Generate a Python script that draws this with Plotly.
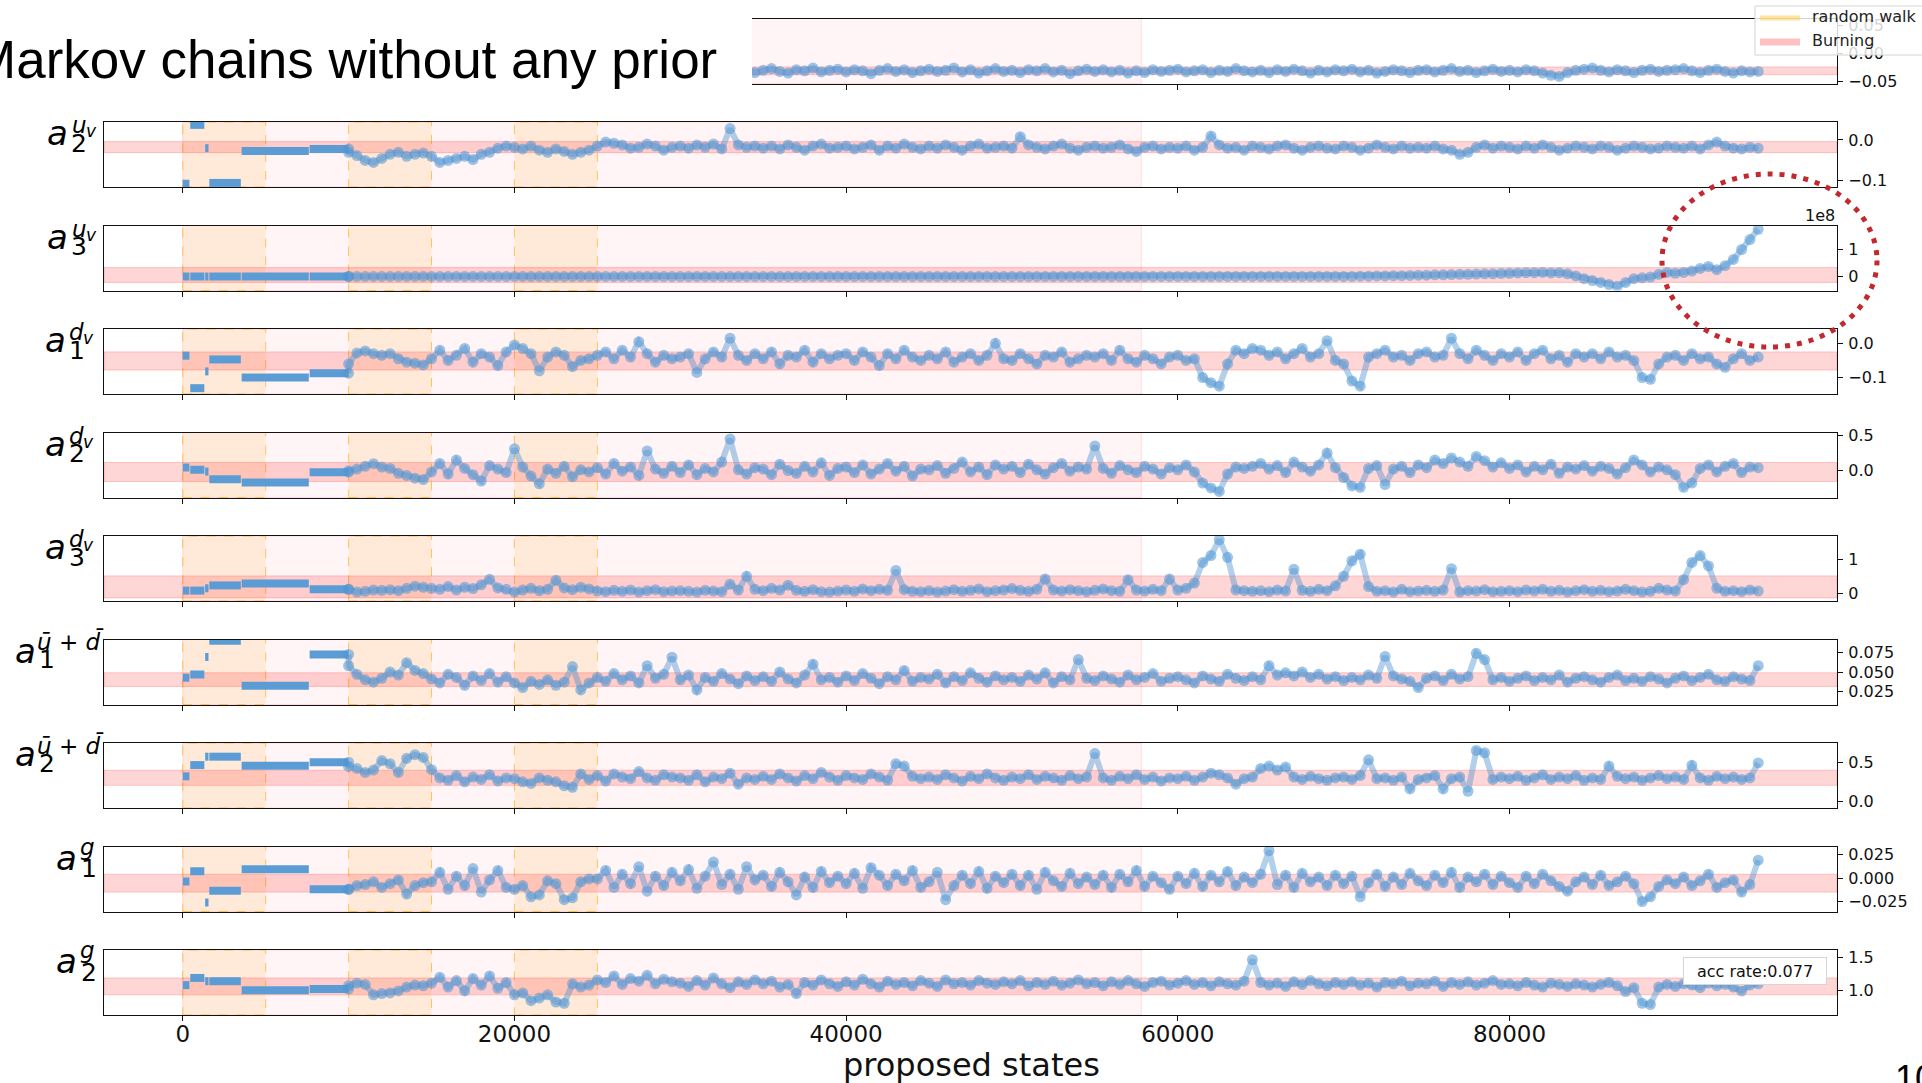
import plotly.graph_objects as go

W, H = 1922, 1083

# ---------------- data ----------------
chain_steps = list(range(10000, 95001, 500))          # recorded chain after the random-walk start
walk_start = [0, 450, 1350, 1600, 3550, 7650]          # piecewise-constant accepted states (first 10000)
walk_end = [400, 1300, 1550, 3500, 7600, 10000]
random_walk_spans = [(0, 5000), (10000, 15000), (20000, 25000)]
burning_span = (0, 57800)
acc_rate = 0.077

a1_uv_walk = [0.005, 0.055, 0.010, -0.045, -0.020, -0.028]
a1_uv_chain = [
    -0.030, -0.034, -0.028, -0.036, -0.031, -0.027, -0.033, -0.029, -0.035, -0.030,
    -0.032, -0.027, -0.035, -0.030, -0.026, -0.033, -0.029, -0.036, -0.031, -0.028,
    -0.030, -0.034, -0.027, -0.032, -0.036, -0.029, -0.031, -0.026, -0.033, -0.030,
    -0.028, -0.033, -0.030, -0.035, -0.029, -0.027, -0.032, -0.030, -0.034, -0.029,
    -0.031, -0.027, -0.033, -0.029, -0.035, -0.030, -0.026, -0.032, -0.029, -0.034,
    -0.030, -0.027, -0.032, -0.035, -0.029, -0.031, -0.026, -0.033, -0.030, -0.028,
    -0.033, -0.029, -0.031, -0.036, -0.030, -0.027, -0.032, -0.029, -0.034, -0.031,
    -0.028, -0.032, -0.030, -0.026, -0.033, -0.029, -0.035, -0.031, -0.027, -0.032,
    -0.030, -0.034, -0.029, -0.031, -0.027, -0.033, -0.030, -0.036, -0.031, -0.028,
    -0.032, -0.029, -0.033, -0.030, -0.035, -0.031, -0.034, -0.029, -0.032, -0.030,
    -0.028, -0.033, -0.031, -0.029, -0.034, -0.030, -0.032, -0.027, -0.031, -0.033,
    -0.030, -0.034, -0.029, -0.032, -0.028, -0.031, -0.035, -0.030, -0.033, -0.029,
    -0.031, -0.028, -0.033, -0.030, -0.035, -0.032, -0.029, -0.031, -0.034, -0.030,
    -0.029, -0.033, -0.030, -0.027, -0.032, -0.030, -0.034, -0.031, -0.028, -0.032,
    -0.030, -0.033, -0.029, -0.031, -0.035, -0.039, -0.041, -0.034, -0.030, -0.028,
    -0.026, -0.030, -0.033, -0.029, -0.031, -0.034, -0.030, -0.028, -0.032, -0.030,
    -0.029, -0.027, -0.031, -0.034, -0.030, -0.028, -0.032, -0.035, -0.031, -0.033,
    -0.032]

a2_uv_walk = [-0.107, 0.037, -0.020, -0.105, -0.027, -0.022]
a2_uv_chain = [
    -0.030, -0.038, -0.050, -0.055, -0.045, -0.035, -0.030, -0.040, -0.035, -0.032,
    -0.040, -0.055, -0.050, -0.045, -0.040, -0.048, -0.035, -0.030, -0.020, -0.015,
    -0.018, -0.022, -0.015, -0.025, -0.030, -0.022, -0.028, -0.035, -0.030, -0.025,
    -0.015, -0.005, -0.008, -0.012, -0.020, -0.018, -0.010, -0.015, -0.025, -0.018,
    -0.015, -0.020, -0.012, -0.018, -0.010, -0.022, 0.028, -0.012, -0.018, -0.015,
    -0.020, -0.015, -0.022, -0.012, -0.018, -0.025, -0.015, -0.010, -0.020, -0.018,
    -0.015, -0.022, -0.018, -0.012, -0.025, -0.015, -0.020, -0.010, -0.018, -0.022,
    -0.015, -0.020, -0.012, -0.018, -0.025, -0.015, -0.010, -0.020, -0.018, -0.015,
    -0.020, 0.008, -0.012, -0.018, -0.022, -0.015, -0.010, -0.020, -0.025, -0.018,
    -0.015, -0.020, -0.018, -0.012, -0.022, -0.028, -0.018, -0.015, -0.022, -0.018,
    -0.020, -0.015, -0.025, -0.018, 0.010, -0.012, -0.020, -0.018, -0.025, -0.015,
    -0.018, -0.022, -0.015, -0.012, -0.020, -0.025, -0.018, -0.015, -0.020, -0.022,
    -0.015, -0.018, -0.025, -0.020, -0.012, -0.018, -0.022, -0.015, -0.020, -0.018,
    -0.020, -0.015, -0.022, -0.025, -0.035, -0.030, -0.018, -0.012, -0.020, -0.015,
    -0.018, -0.022, -0.015, -0.020, -0.012, -0.018, -0.025, -0.020, -0.015, -0.018,
    -0.022, -0.015, -0.018, -0.025, -0.020, -0.015, -0.018, -0.022, -0.020, -0.015,
    -0.018, -0.020, -0.015, -0.022, -0.012, -0.005, -0.015, -0.020, -0.022, -0.018,
    -0.020]

# a3^{u_v} in units of 1e8
a3_uv_walk = [0.0, 0.0, 0.0, 0.0, 0.0, 0.0]
a3_uv_chain = [
    0.0, 0.0, 0.0, 0.0, 0.0, 0.0, 0.0, 0.0, 0.0, 0.0,
    0.0, 0.0, 0.0, 0.0, 0.0, 0.0, 0.0, 0.0, 0.0, 0.0,
    0.0, 0.0, 0.0, 0.0, 0.0, 0.0, 0.0, 0.0, 0.0, 0.0,
    0.0, 0.0, 0.0, 0.0, 0.0, 0.0, 0.0, 0.0, 0.0, 0.0,
    0.0, 0.0, 0.0, 0.0, 0.0, 0.0, 0.0, 0.0, 0.0, 0.0,
    0.0, 0.0, 0.0, 0.0, 0.0, 0.0, 0.0, 0.0, 0.0, 0.0,
    0.0, 0.0, 0.0, 0.0, 0.0, 0.0, 0.0, 0.0, 0.0, 0.0,
    0.0, 0.0, 0.0, 0.0, 0.0, 0.0, 0.0, 0.0, 0.0, 0.0,
    0.0, 0.0, 0.0, 0.0, 0.0, 0.0, 0.0, 0.0, 0.0, 0.0,
    0.0, 0.0, 0.0, 0.0, 0.0, 0.0, 0.0, 0.0, 0.0, 0.0,
    0.0, 0.0, 0.0, 0.0, 0.0, 0.0, 0.0, 0.0, 0.0, 0.0,
    0.0, 0.0, 0.0, 0.0, 0.0, 0.0, 0.0, 0.0, 0.0, 0.0,
    0.0, 0.0, 0.01, 0.01, 0.02, 0.02, 0.03, 0.03, 0.04, 0.05,
    0.05, 0.06, 0.06, 0.07, 0.08, 0.08, 0.09, 0.10, 0.10, 0.11,
    0.12, 0.13, 0.14, 0.14, 0.15, 0.13, 0.14, 0.10, 0.02, -0.08,
    -0.15, -0.22, -0.30, -0.36, -0.22, -0.08, -0.05, -0.02, 0.08, 0.15,
    0.12, 0.15, 0.20, 0.30, 0.37, 0.25, 0.40, 0.63, 1.00, 1.37,
    1.75]

a1_dv_walk = [-0.036, -0.131, -0.082, -0.047, -0.100, -0.087]
a1_dv_chain = [
    -0.060, -0.028, -0.022, -0.030, -0.035, -0.030, -0.045, -0.055, -0.058, -0.063,
    -0.045, -0.020, -0.050, -0.035, -0.015, -0.055, -0.030, -0.040, -0.065, -0.025,
    -0.005, -0.015, -0.030, -0.080, -0.040, -0.025, -0.035, -0.068, -0.050, -0.045,
    -0.035, -0.025, -0.045, -0.020, -0.040, 0.005, -0.030, -0.055, -0.035, -0.045,
    -0.040, -0.030, -0.085, -0.045, -0.025, -0.040, 0.015, -0.035, -0.050, -0.030,
    -0.045, -0.025, -0.060, -0.035, -0.040, -0.020, -0.055, -0.030, -0.045, -0.035,
    -0.030, -0.050, -0.025, -0.040, -0.065, -0.030, -0.045, -0.020, -0.040, -0.050,
    -0.035, -0.045, -0.025, -0.055, -0.040, -0.030, -0.050, -0.035, 0.000, -0.045,
    -0.050, -0.030, -0.045, -0.060, -0.035, -0.040, -0.025, -0.055, -0.045, -0.035,
    -0.040, -0.030, -0.050, -0.020, -0.045, -0.055, -0.035, -0.045, -0.060, -0.040,
    -0.035, -0.050, -0.045, -0.100, -0.115, -0.125, -0.060, -0.020, -0.030, -0.015,
    -0.020, -0.035, -0.025, -0.045, -0.030, -0.015, -0.040, -0.030, 0.008, -0.050,
    -0.060, -0.110, -0.125, -0.040, -0.030, -0.020, -0.040, -0.035, -0.050, -0.030,
    -0.025, -0.040, -0.035, 0.015, -0.030, -0.045, -0.020, -0.035, -0.050, -0.030,
    -0.040, -0.025, -0.050, -0.030, -0.020, -0.045, -0.035, -0.055, -0.030, -0.040,
    -0.030, -0.045, -0.025, -0.040, -0.035, -0.050, -0.100, -0.105, -0.060, -0.040,
    -0.035, -0.050, -0.030, -0.045, -0.040, -0.060, -0.070, -0.045, -0.030, -0.050,
    -0.040]

a2_dv_walk = [0.041, 0.010, -0.014, -0.126, -0.172, -0.024]
a2_dv_chain = [
    -0.005, 0.020, 0.060, 0.097, 0.050, 0.030, -0.040, -0.070, -0.110, -0.130,
    -0.020, 0.100, -0.050, 0.150, 0.030, -0.060, -0.150, 0.070, 0.020, -0.030,
    0.310, 0.050, -0.080, -0.190, 0.020, -0.040, 0.060, -0.090, 0.010, -0.020,
    0.040, -0.050, 0.100, -0.010, 0.050, -0.070, 0.280, 0.020, -0.040, 0.060,
    -0.030, 0.080, -0.060, 0.030, -0.020, 0.120, 0.450, 0.010, -0.050, 0.040,
    0.020, -0.060, 0.090, 0.000, -0.040, 0.060, -0.020, 0.110, -0.070, 0.030,
    0.050, -0.030, 0.080, -0.050, 0.020, 0.100, -0.010, 0.060, -0.080, 0.020,
    0.010, 0.070, -0.040, 0.030, 0.120, -0.020, 0.050, -0.060, 0.080, 0.020,
    0.060, -0.030, 0.090, 0.010, -0.050, 0.040, 0.100, -0.010, 0.050, 0.020,
    0.350, 0.030, -0.040, 0.070, 0.010, -0.030, 0.060, 0.020, -0.050, 0.040,
    0.010, 0.080, -0.020, -0.180, -0.250, -0.300, -0.050, 0.050, 0.030, 0.060,
    0.100, 0.020, 0.070, -0.030, 0.120, 0.050, -0.010, 0.080, 0.250, 0.040,
    -0.100, -0.220, -0.240, 0.030, 0.070, -0.200, 0.020, 0.060, -0.030, 0.080,
    0.040, 0.150, 0.100, 0.180, 0.120, 0.060, 0.200, 0.140, 0.050, 0.110,
    0.030, 0.080, -0.020, 0.060, 0.010, 0.090, -0.040, 0.050, 0.020, 0.070,
    -0.010, 0.060, 0.030, -0.050, 0.040, 0.150, 0.080, -0.020, 0.050, 0.010,
    -0.060, -0.240, -0.180, 0.030, 0.080, -0.020, 0.060, 0.100, -0.030, 0.050,
    0.040]

a3_dv_walk = [0.082, 0.082, 0.150, 0.234, 0.290, 0.120]
a3_dv_chain = [
    0.120, 0.040, 0.060, 0.100, 0.090, 0.110, 0.080, 0.150, 0.210, 0.180,
    0.150, 0.120, 0.200, 0.100, 0.180, 0.140, 0.250, 0.410, 0.160, 0.120,
    0.040, 0.100, 0.150, 0.080, 0.120, 0.380, 0.160, 0.110, 0.180, 0.130,
    0.070, 0.050, 0.090, 0.060, 0.100, 0.040, 0.080, 0.110, 0.050, 0.070,
    0.080, 0.060, 0.040, 0.090, 0.070, 0.050, 0.270, 0.100, 0.500, 0.120,
    0.080, 0.150, 0.100, 0.240, 0.090, 0.060, 0.110, 0.050, 0.040, 0.070,
    0.100, 0.060, 0.130, 0.080, 0.120, 0.090, 0.670, 0.110, 0.060, 0.050,
    0.080, 0.040, 0.070, 0.110, 0.060, 0.090, 0.130, 0.050, 0.080, 0.100,
    0.140, 0.090, 0.060, 0.120, 0.420, 0.100, 0.070, 0.110, 0.080, 0.050,
    0.090, 0.130, 0.080, 0.060, 0.400, 0.100, 0.070, 0.120, 0.080, 0.420,
    0.100, 0.150, 0.300, 0.900, 1.100, 1.560, 1.050, 0.100, 0.080, 0.060,
    0.080, 0.050, 0.100, 0.070, 0.700, 0.090, 0.060, 0.120, 0.080, 0.220,
    0.500, 0.950, 1.140, 0.200, 0.060, 0.080, 0.040, 0.120, 0.050, 0.070,
    0.090, 0.060, 0.100, 0.720, 0.040, 0.080, 0.070, 0.110, 0.050, 0.060,
    0.080, 0.050, 0.100, 0.070, 0.120, 0.060, 0.090, 0.040, 0.080, 0.110,
    0.060, 0.090, 0.050, 0.070, 0.120, 0.080, 0.040, 0.060, 0.150, 0.100,
    0.070, 0.400, 0.900, 1.100, 0.800, 0.150, 0.060, 0.080, 0.050, 0.100,
    0.070]

a1_ud_walk = [0.0425, 0.0467, 0.0692, 0.0900, 0.0325, 0.0725]
a1_ud_chain = [
    0.058, 0.047, 0.040, 0.037, 0.042, 0.050, 0.046, 0.062, 0.052, 0.048,
    0.041, 0.036, 0.047, 0.043, 0.033, 0.045, 0.039, 0.048, 0.037, 0.044,
    0.036, 0.030, 0.038, 0.034, 0.040, 0.033, 0.037, 0.057, 0.027, 0.036,
    0.043, 0.038, 0.048, 0.040, 0.045, 0.036, 0.058, 0.042, 0.047, 0.069,
    0.040, 0.046, 0.027, 0.043, 0.038, 0.048, 0.041, 0.035, 0.045, 0.039,
    0.044, 0.038, 0.050, 0.041, 0.036, 0.046, 0.060, 0.040, 0.043, 0.037,
    0.045, 0.039, 0.048, 0.042, 0.035, 0.044, 0.040, 0.052, 0.038, 0.043,
    0.041, 0.047, 0.036, 0.044, 0.039, 0.049, 0.042, 0.037, 0.045, 0.040,
    0.043, 0.038, 0.046, 0.041, 0.049, 0.036, 0.044, 0.040, 0.066, 0.042,
    0.039, 0.045, 0.041, 0.037, 0.046, 0.040, 0.043, 0.048, 0.038, 0.042,
    0.044, 0.040, 0.036, 0.045, 0.041, 0.038, 0.047, 0.042, 0.039, 0.044,
    0.040, 0.058, 0.046, 0.049, 0.045, 0.050, 0.043, 0.047, 0.041, 0.044,
    0.039, 0.043, 0.040, 0.046, 0.042, 0.070, 0.045, 0.041, 0.038, 0.030,
    0.042, 0.045, 0.039, 0.047, 0.041, 0.044, 0.074, 0.066, 0.040, 0.043,
    0.038, 0.042, 0.045, 0.039, 0.043, 0.040, 0.046, 0.037, 0.042, 0.044,
    0.040, 0.037, 0.043, 0.046, 0.039, 0.042, 0.038, 0.044, 0.041, 0.036,
    0.042, 0.045, 0.039, 0.043, 0.047, 0.040, 0.038, 0.044, 0.041, 0.039,
    0.058]

a2_ud_walk = [0.320, 0.463, 0.570, 0.570, 0.455, 0.500]
a2_ud_chain = [
    0.446, 0.420, 0.370, 0.400, 0.520, 0.480, 0.370, 0.550, 0.595, 0.560,
    0.405, 0.300, 0.270, 0.330, 0.250, 0.310, 0.280, 0.340, 0.260, 0.300,
    0.290, 0.250, 0.230, 0.300, 0.270, 0.250, 0.200, 0.180, 0.350, 0.280,
    0.330, 0.260, 0.350, 0.310, 0.290, 0.380, 0.300, 0.270, 0.340, 0.310,
    0.300, 0.270, 0.340, 0.250, 0.310, 0.290, 0.360, 0.220, 0.300, 0.280,
    0.320, 0.280, 0.350, 0.300, 0.260, 0.330, 0.290, 0.370, 0.310, 0.270,
    0.330, 0.300, 0.280, 0.350, 0.310, 0.270, 0.480, 0.450, 0.320, 0.290,
    0.310, 0.280, 0.340, 0.300, 0.260, 0.320, 0.290, 0.350, 0.300, 0.270,
    0.310, 0.290, 0.340, 0.280, 0.320, 0.300, 0.270, 0.330, 0.290, 0.310,
    0.610, 0.300, 0.270, 0.320, 0.290, 0.340, 0.280, 0.310, 0.260, 0.300,
    0.290, 0.320, 0.270, 0.310, 0.360, 0.340, 0.300, 0.220, 0.290, 0.310,
    0.420, 0.450, 0.400, 0.440, 0.310, 0.280, 0.320, 0.290, 0.270, 0.300,
    0.310, 0.280, 0.330, 0.530, 0.290, 0.300, 0.270, 0.310, 0.160, 0.280,
    0.300, 0.330, 0.160, 0.290, 0.310, 0.130, 0.650, 0.620, 0.280, 0.310,
    0.290, 0.320, 0.270, 0.300, 0.340, 0.280, 0.310, 0.290, 0.330, 0.270,
    0.300, 0.280, 0.450, 0.320, 0.290, 0.310, 0.270, 0.300, 0.330, 0.290,
    0.310, 0.280, 0.460, 0.300, 0.270, 0.320, 0.290, 0.310, 0.280, 0.300,
    0.490]

a1_g_walk = [-0.0038, 0.0072, -0.0260, -0.0135, 0.0093, -0.0120]
a1_g_chain = [
    -0.012, -0.008, -0.007, -0.004, -0.010, -0.006, -0.002, -0.017, -0.008, -0.005,
    -0.004, 0.006, -0.012, 0.002, -0.008, 0.010, -0.015, -0.002, 0.008, -0.010,
    -0.012, -0.008, -0.020, -0.018, -0.003, -0.006, -0.023, -0.021, -0.004, -0.001,
    -0.001, 0.008, -0.010, 0.004, -0.006, 0.012, -0.014, 0.002, -0.008, 0.006,
    -0.003, 0.009, -0.011, 0.002, 0.017, -0.007, 0.004, -0.012, 0.012, -0.002,
    0.003, -0.009, 0.006, -0.004, -0.018, 0.001, -0.010, 0.007, -0.005, 0.002,
    -0.006, 0.005, -0.011, 0.011, 0.003, -0.008, 0.004, -0.003, 0.008, -0.010,
    -0.004, 0.006, -0.023, -0.008, 0.003, -0.006, 0.007, -0.011, 0.002, -0.005,
    0.004, -0.008, 0.003, -0.012, 0.006, -0.003, -0.009, 0.005, -0.006, 0.001,
    -0.007, 0.003, -0.010, 0.004, -0.004, 0.008, -0.009, 0.002, -0.005, -0.012,
    0.002, -0.006, 0.005, -0.009, 0.003, -0.004, 0.007, -0.008, 0.001, -0.005,
    0.004, 0.029, -0.007, 0.003, -0.010, 0.005, -0.004, 0.001, -0.008, 0.003,
    -0.006, 0.002, -0.020, -0.005, 0.004, -0.009, 0.001, -0.007, 0.005, -0.003,
    -0.008, 0.003, -0.005, 0.006, -0.010, 0.001, -0.004, 0.004, -0.007, 0.002,
    -0.005, -0.010, 0.002, -0.006, 0.004, -0.003, -0.009, -0.014, -0.004, 0.001,
    -0.007, 0.003, -0.008, -0.004, 0.002, -0.006, -0.025, -0.020, -0.009, -0.002,
    -0.006, 0.001, -0.008, -0.003, 0.004, -0.010, -0.005, -0.002, -0.015, -0.007,
    0.019]

a2_g_walk = [1.08, 1.19, 1.14, 1.14, 1.00, 1.02]
a2_g_chain = [
    1.070, 1.110, 1.090, 0.930, 0.950, 0.960, 0.990, 1.050, 1.080, 1.070,
    1.110, 1.200, 1.050, 1.150, 0.990, 1.180, 1.080, 1.220, 1.030, 1.120,
    0.930, 0.960, 0.840, 0.880, 0.930, 0.820, 0.800, 1.100, 1.050, 1.080,
    1.160, 1.120, 1.220, 1.090, 1.180, 1.140, 1.230, 1.100, 1.170, 1.130,
    1.110, 1.060, 1.150, 1.080, 1.190, 1.100, 1.040, 1.130, 1.090, 1.160,
    1.100, 1.140, 1.050, 1.090, 0.950, 1.120, 1.080, 1.160, 1.100, 1.060,
    1.130, 1.080, 1.170, 1.100, 1.050, 1.140, 1.090, 1.120, 1.070, 1.150,
    1.110, 1.060, 1.160, 1.100, 1.120, 1.080, 1.150, 1.110, 1.090, 1.130,
    1.100, 1.150, 1.070, 1.120, 1.090, 1.140, 1.080, 1.110, 1.160, 1.100,
    1.120, 1.070, 1.130, 1.090, 1.150, 1.100, 1.060, 1.120, 1.140, 1.080,
    1.110, 1.150, 1.090, 1.120, 1.070, 1.130, 1.100, 1.080, 1.140, 1.470,
    1.120, 1.080, 1.110, 1.060, 1.130, 1.090, 1.150, 1.100, 1.070, 1.120,
    1.090, 1.130, 1.080, 1.110, 1.050, 1.120, 1.100, 1.140, 1.070, 1.110,
    1.100, 1.140, 1.060, 1.120, 1.090, 1.130, 1.080, 1.110, 1.150, 1.090,
    1.100, 1.070, 1.120, 1.080, 1.050, 1.110, 1.090, 1.060, 1.100, 1.080,
    1.050, 1.090, 1.120, 1.070, 0.980, 1.040, 0.800, 0.780, 1.050, 1.090,
    1.060, 1.100, 1.080, 1.040, 1.110, 1.070, 1.090, 1.050, 0.990, 1.080,
    1.100]

# "Burning" reference band (low, high) of each parameter
band_low = [-0.038, -0.031, -0.22, -0.078, -0.157, -0.13, 0.0315, 0.205, -0.015, 0.93]
band_high = [-0.024, -0.004, 0.33, -0.025, 0.114, 0.51, 0.049, 0.397, 0.004, 1.19]

walks = [a1_uv_walk, a2_uv_walk, a3_uv_walk, a1_dv_walk, a2_dv_walk, a3_dv_walk,
         a1_ud_walk, a2_ud_walk, a1_g_walk, a2_g_walk]
chains = [a1_uv_chain, a2_uv_chain, a3_uv_chain, a1_dv_chain, a2_dv_chain, a3_dv_chain,
          a1_ud_chain, a2_ud_chain, a1_g_chain, a2_g_chain]
label_index = ["1", "2", "3", "1", "2", "3", "1", "2", "1", "2"]
label_kind = ["uv", "uv", "uv", "dv", "dv", "dv", "ud", "ud", "g", "g"]

M = "\u2212"
axis_cfg = [
    dict(rng=[-0.0536, 0.0625], tv=[-0.05, 0.0, 0.05], tt=[M + "0.05", "0.00", "0.05"]),
    dict(rng=[-0.115, 0.044], tv=[-0.1, 0.0], tt=[M + "0.1", "0.0"]),
    dict(rng=[-0.52, 1.89], tv=[0, 1], tt=["0", "1"]),
    dict(rng=[-0.148, 0.042], tv=[-0.1, 0.0], tt=[M + "0.1", "0.0"]),
    dict(rng=[-0.386, 0.543], tv=[0.0, 0.5], tt=["0.0", "0.5"]),
    dict(rng=[-0.22, 1.67], tv=[0, 1], tt=["0", "1"]),
    dict(rng=[0.0083, 0.0917], tv=[0.025, 0.05, 0.075], tt=["0.025", "0.050", "0.075"]),
    dict(rng=[-0.083, 0.744], tv=[0.0, 0.5], tt=["0.0", "0.5"]),
    dict(rng=[-0.0356, 0.0335], tv=[-0.025, 0.0, 0.025], tt=[M + "0.025", "0.000", "0.025"]),
    dict(rng=[0.62, 1.62], tv=[1.0, 1.5], tt=["1.0", "1.5"]),
]

# ---------------- figure ----------------
X0_PX, X1_PX = 104, 1837
PANEL_TOP0, PANEL_STEP, PANEL_H = 18.5, 103.5, 65
FONT = "DejaVu Sans"
BLUE = "rgb(92,156,213)"
DOT = "rgba(80,150,212,0.55)"


def px_x(p):
    return p / W


def px_y(p):
    return 1 - p / H


fig = go.Figure()
shapes = []
annotations = []
layout = {}

for i in range(10):
    k = i + 1
    xa = "x" if k == 1 else f"x{k}"
    ya = "y" if k == 1 else f"y{k}"
    top = PANEL_TOP0 + PANEL_STEP * i
    bot = top + PANEL_H

    seg_x, seg_y = [], []
    for s, e, v in zip(walk_start, walk_end, walks[i]):
        seg_x += [s, e, None]
        seg_y += [v, v, None]
    fig.add_trace(go.Scatter(x=seg_x, y=seg_y, mode="lines", xaxis=xa, yaxis=ya,
                             line=dict(color=BLUE, width=8), hoverinfo="skip",
                             showlegend=False))
    fig.add_trace(go.Scatter(x=[walk_end[-1]] + chain_steps, y=[walks[i][-1]] + chains[i],
                             mode="lines+markers", xaxis=xa, yaxis=ya,
                             line=dict(color="rgba(84,150,210,0.45)", width=6),
                             marker=dict(color=DOT, size=11, line=dict(width=0)),
                             hoverinfo="skip", showlegend=False))

    cfg = axis_cfg[i]
    layout["xaxis" if k == 1 else f"xaxis{k}"] = dict(
        domain=[px_x(X0_PX), px_x(X1_PX)], anchor=ya, range=[-4750, 99750], automargin=False,
        tickvals=[0, 20000, 40000, 60000, 80000], ticktext=["0", "20000", "40000", "60000", "80000"],
        showticklabels=(k == 10), ticks="outside", ticklen=5, tickwidth=1.2, tickcolor="#111",
        ticklabelstandoff=-7,
        showline=True, mirror=True, linecolor="#111", linewidth=1.3,
        showgrid=False, zeroline=False, tickfont=dict(family=FONT, size=23, color="#111"))
    layout["yaxis" if k == 1 else f"yaxis{k}"] = dict(
        domain=[px_y(bot), px_y(top)], anchor=xa, side="right", range=cfg["rng"], automargin=False,
        tickvals=cfg["tv"], ticktext=cfg["tt"], ticks="outside", ticklen=5, tickwidth=1.2,
        ticklabelstandoff=2,
        tickcolor="#111", showline=True, mirror=True, linecolor="#111", linewidth=1.3,
        showgrid=False, zeroline=False, tickfont=dict(family=FONT, size=16, color="#111"))

    # burning region
    shapes.append(dict(type="rect", xref=xa, yref=f"{ya} domain", x0=burning_span[0], x1=burning_span[1],
                       y0=0, y1=1, fillcolor="rgba(255,170,180,0.12)",
                       line=dict(color="rgba(255,150,160,0.3)", width=1), layer="below"))
    # random walk regions
    for a, b in random_walk_spans:
        shapes.append(dict(type="rect", xref=xa, yref=f"{ya} domain", x0=a, x1=b, y0=0, y1=1,
                           fillcolor="rgba(255,170,40,0.14)",
                           line=dict(color="rgba(255,180,40,0.75)", width=1, dash="dash"),
                           layer="below"))
    # reference band
    shapes.append(dict(type="rect", xref=f"{xa} domain", yref=ya, x0=0, x1=1,
                       y0=band_low[i], y1=band_high[i], fillcolor="rgba(255,0,0,0.16)",
                       line=dict(color="rgba(255,60,60,0.25)", width=1), layer="below"))

    # y label  a_{n}^{...}
    kind = label_kind[i]
    geo = {
        "uv": dict(a=69, d=70, s=71, sub=85, sup="<i>u</i>", sb=11, db=30),
        "dv": dict(a=67, d=68, s=68, sub=82, sup="<i>d</i>", sb=11, db=30),
        "ud": dict(a=37, d=38, s=36, sub=None, sup="<i>\u016b</i> + <i>d\u0304</i>", sb=10, db=29),
        "g": dict(a=78, d=80, s=79, sub=None, sup="<i>g</i>", sb=8, db=31),
    }[kind]
    if i > 0:
        def ann(text, x, base, size, anchor):
            annotations.append(dict(text=text, x=px_x(x), y=px_y(top + base - 0.346 * size),
                                    xref="paper", yref="paper", xanchor=anchor, yanchor="middle",
                                    showarrow=False, borderpad=0,
                                    font=dict(family=FONT, size=size, color="#000")))
        ann("<i>a</i>", geo["a"], 23, 34, "right")
        ann(label_index[i], geo["d"], geo["db"], 25, "left")
        ann(geo["sup"], geo["s"], geo["sb"], 23, "left")
        if geo["sub"]:
            ann("<i>v</i>", geo["sub"], 15, 17, "left")

layout["shapes"] = shapes

# title cover box (top-left)
shapes.append(dict(type="rect", xref="paper", yref="paper", x0=0, x1=px_x(752), y0=px_y(95), y1=1,
                   fillcolor="white", line=dict(width=0), layer="above"))
# legend box
shapes.append(dict(type="rect", xref="paper", yref="paper", x0=px_x(1755), x1=px_x(1935),
                   y0=px_y(55), y1=px_y(6), fillcolor="rgba(255,255,255,0.82)",
                   line=dict(color="#d4d4d4", width=1), layer="above"))
shapes.append(dict(type="line", xref="paper", yref="paper", x0=px_x(1760), x1=px_x(1800),
                   y0=px_y(18), y1=px_y(18), line=dict(color="rgba(255,205,80,0.55)", width=5),
                   layer="above"))
shapes.append(dict(type="line", xref="paper", yref="paper", x0=px_x(1760), x1=px_x(1800),
                   y0=px_y(42), y1=px_y(42), line=dict(color="rgba(255,60,60,0.32)", width=7),
                   layer="above"))
# dotted highlight ellipse
shapes.append(dict(type="circle", xref="paper", yref="paper", x0=px_x(1662), x1=px_x(1877),
                   y0=px_y(347), y1=px_y(174), line=dict(color="#c3282e", width=5, dash="5px,7px"),
                   layer="above"))

annotations += [
    dict(text="Markov chains without any prior", x=px_x(-29), y=px_y(59), xref="paper", yref="paper",
         xanchor="left", yanchor="middle", showarrow=False, borderpad=0,
         font=dict(family="Liberation Sans", size=53, color="#000")),
    dict(text="random walk", x=px_x(1810), y=px_y(17), xref="paper", yref="paper", xanchor="left",
         yanchor="middle", showarrow=False, font=dict(family=FONT, size=16, color="#222")),
    dict(text="Burning", x=px_x(1810), y=px_y(41), xref="paper", yref="paper", xanchor="left",
         yanchor="middle", showarrow=False, font=dict(family=FONT, size=16, color="#222")),
    dict(text="1e8", x=px_x(1837), y=px_y(215), xref="paper", yref="paper", xanchor="right",
         yanchor="middle", showarrow=False, font=dict(family=FONT, size=16, color="#111")),
    dict(text=f"acc rate:{acc_rate}", x=px_x(1755), y=px_y(971), xref="paper", yref="paper",
         xanchor="center", yanchor="middle", showarrow=False, bgcolor="white",
         bordercolor="#d6d6d6", borderwidth=1, borderpad=1, width=140, height=24,
         font=dict(family=FONT, size=16, color="#111")),
    dict(text="proposed states", x=px_x(971), y=px_y(1065), xref="paper", yref="paper",
         xanchor="center", yanchor="middle", showarrow=False,
         font=dict(family=FONT, size=32, color="#111")),
    dict(text="10", x=px_x(1893), y=px_y(1078), xref="paper", yref="paper", xanchor="left",
         yanchor="middle", showarrow=False, font=dict(family="Liberation Sans", size=36, color="#000")),
]
layout["annotations"] = annotations

fig.update_layout(**layout)
fig.update_layout(width=W, height=H, margin=dict(l=0, r=0, t=0, b=0, pad=0), showlegend=False,
                  plot_bgcolor="white", paper_bgcolor="white")

fig.write_html("out.html")
